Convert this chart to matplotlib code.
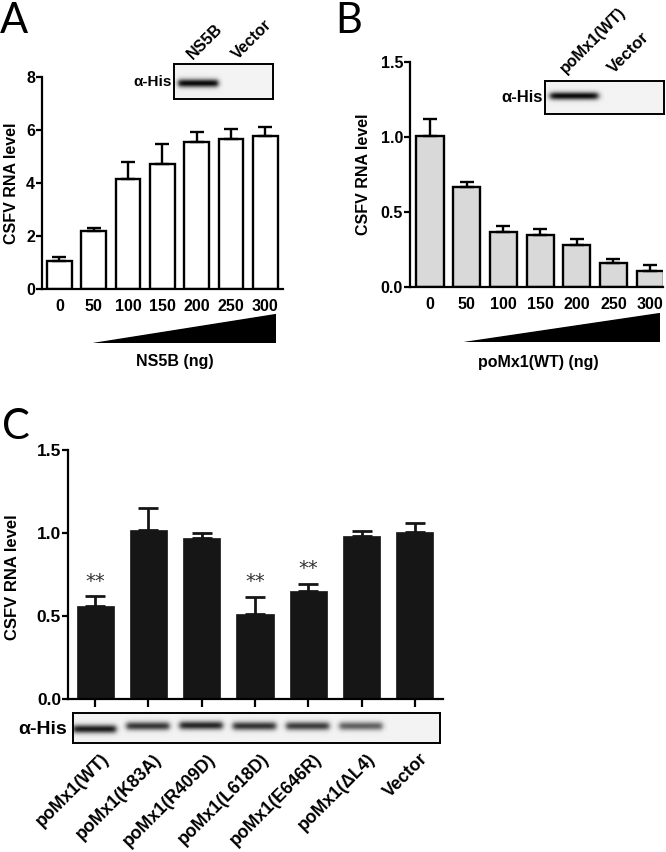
import numpy as np
import matplotlib
matplotlib.use("Agg")
import matplotlib.pyplot as plt
from matplotlib.patches import Polygon
import matplotlib.transforms as mtransforms

plt.rcParams['font.family'] = ['Liberation Sans', 'DejaVu Sans']

# ---- data ----
dose_labels = ['0', '50', '100', '150', '200', '250', '300']

ns5b_mean = [1.04, 2.18, 4.16, 4.73, 5.53, 5.66, 5.76]
ns5b_err = [0.16, 0.12, 0.62, 0.74, 0.38, 0.38, 0.35]

wt_mean = [1.01, 0.67, 0.37, 0.345, 0.28, 0.163, 0.11]
wt_err = [0.11, 0.03, 0.04, 0.045, 0.04, 0.022, 0.035]

mut_labels = ['poMx1(WT)', 'poMx1(K83A)', 'poMx1(R409D)', 'poMx1(L618D)',
              'poMx1(E646R)', 'poMx1(ΔL4)', 'Vector']
mut_mean = [0.56, 1.02, 0.97, 0.51, 0.65, 0.98, 1.005]
mut_err = [0.06, 0.13, 0.03, 0.105, 0.045, 0.03, 0.055]
mut_stars = ['**', '', '', '**', '**', '', '']

# western blot band strengths per lane
blot_a = [1.0, 0.0]
blot_b = [1.0, 0.0]
blot_c = [0.92, 0.8, 0.88, 0.82, 0.78, 0.62, 0.0]

W, H = 666, 852
fig = plt.figure(figsize=(W / 100, H / 100), dpi=100, facecolor='white')


def px_axes(l, t, r, b):
    return fig.add_axes([l / W, 1 - b / H, (r - l) / W, (b - t) / H])


def fig_text(x, y, s, **kw):
    return fig.text(x / W, 1 - y / H, s, **kw)


def style_axes(ax, xtick_len=0):
    for side in ['top', 'right']:
        ax.spines[side].set_visible(False)
    for side in ['left', 'bottom']:
        ax.spines[side].set_linewidth(1.6)
    ax.tick_params(axis='y', length=4, width=1.6, labelsize=11.5, pad=1)
    ax.tick_params(axis='x', length=xtick_len, width=1.6, labelsize=11.5, pad=7)
    for lab in ax.get_xticklabels() + ax.get_yticklabels():
        lab.set_fontweight('bold')


def blot(ax, strengths, rows=30, cols=60, centers=None, xlim=None, sigma=0.12):
    n = len(strengths)
    if centers is None:
        centers = [0.5] * n
    yy = np.linspace(0, 1, rows)[:, None]
    xx = np.linspace(0, 1, cols)[None, :]
    img = np.zeros((rows, cols * n)) + 0.05
    for i, s in enumerate(strengths):
        prof_x = 1 / (1 + np.exp(-(xx - 0.08) * 35)) * 1 / (1 + np.exp((xx - 0.9) * 35))
        prof_y = np.exp(-((yy - centers[i]) / sigma) ** 2)
        img[:, i * cols:(i + 1) * cols] += s * 0.92 * prof_y * prof_x
    ax.imshow(img, cmap='gray_r', vmin=0, vmax=1, aspect='auto',
              extent=(-0.5, n - 0.5, 1, 0), interpolation='bilinear')
    if xlim is not None:
        ax.set_xlim(xlim)
    ax.set_xticks([])
    ax.set_yticks([])
    for sp in ax.spines.values():
        sp.set_linewidth(1.4)


def ramp(l, t, r, b):
    ax = px_axes(l, t, r, b)
    ax.add_patch(Polygon([(0, 0), (1, 0), (1, 1)], closed=True, color='black'))
    ax.set_xlim(0, 1)
    ax.set_ylim(0, 1)
    ax.axis('off')


x7 = np.arange(7)
letter_kw = dict(fontsize=30, family=['Lato', 'DejaVu Sans'], fontweight='normal')

# ---- panel A ----
axA = px_axes(42, 77, 283, 289)
axA.bar(x7, ns5b_mean, width=0.72, color='white', edgecolor='black', lw=1.7, zorder=2)
axA.errorbar(x7, ns5b_mean, yerr=[np.zeros(7), ns5b_err], fmt='none', ecolor='black',
             elinewidth=1.7, capsize=4.7, capthick=1.7, zorder=3)
axA.set_xlim(-0.51, 6.52)
axA.set_ylim(0, 8)
axA.set_yticks([0, 2, 4, 6, 8])
axA.set_xticks(x7, dose_labels)
style_axes(axA)
fig_text(12, 183, 'CSFV RNA level', rotation=90, ha='center', va='center',
         fontsize=11.5, fontweight='bold')
fig_text(0, 21, 'A', ha='left', va='center', **letter_kw)
ramp(93, 314, 276, 343)
fig_text(175, 361, 'NS5B (ng)', ha='center', va='center', fontsize=11.5, fontweight='bold')

insA = px_axes(174, 64, 273, 99)
blot(insA, blot_a, centers=[0.55, 0.55])
fig_text(172, 82, 'α-His', ha='right', va='center', fontsize=11, fontweight='bold')
fig_text(195, 62, 'NS5B', rotation=45, rotation_mode='anchor', ha='left', va='bottom',
         fontsize=11.5, fontweight='bold')
fig_text(240, 62, 'Vector', rotation=45, rotation_mode='anchor', ha='left', va='bottom',
         fontsize=11.5, fontweight='bold')

# ---- panel B ----
axB = px_axes(410, 62, 663, 287)
axB.bar(x7, wt_mean, width=0.74, color='#d9d9d9', edgecolor='black', lw=1.7, zorder=2)
axB.errorbar(x7, wt_mean, yerr=[np.zeros(7), wt_err], fmt='none', ecolor='black',
             elinewidth=1.7, capsize=5, capthick=1.7, zorder=3)
axB.set_xlim(-0.545, 6.35)
axB.set_ylim(0, 1.5)
axB.set_yticks([0, 0.5, 1.0, 1.5], ['0.0', '0.5', '1.0', '1.5'])
axB.set_xticks(x7, dose_labels)
style_axes(axB)
fig_text(363, 174, 'CSFV RNA level', rotation=90, ha='center', va='center',
         fontsize=11.5, fontweight='bold')
fig_text(335, 21, 'B', ha='left', va='center', **letter_kw)
ramp(464, 313, 660, 342)
fig_text(538, 362, 'poMx1(WT) (ng)', ha='center', va='center', fontsize=11.5,
         fontweight='bold')

insB = px_axes(545, 81, 664, 114)
blot(insB, blot_b, centers=[0.45, 0.45])
fig_text(543, 98, 'α-His', ha='right', va='center', fontsize=12, fontweight='bold')
fig_text(568, 76, 'poMx1(WT)', rotation=45, rotation_mode='anchor', ha='left', va='bottom',
         fontsize=11.5, fontweight='bold')
fig_text(616, 76, 'Vector', rotation=45, rotation_mode='anchor', ha='left', va='bottom',
         fontsize=12, fontweight='bold')

# ---- panel C ----
axC = px_axes(68, 450, 443, 699)
axC.bar(x7, mut_mean, width=0.7, color='#161616', edgecolor='#161616', lw=0.5, zorder=2)
axC.errorbar(x7, mut_mean, yerr=[np.zeros(7), mut_err], fmt='none', ecolor='#161616',
             elinewidth=2, capsize=7, capthick=2, zorder=3)
for xi, m, e, s in zip(x7, mut_mean, mut_err, mut_stars):
    if s:
        axC.annotate(s, (xi, m + e), xytext=(0, 4), textcoords='offset points',
                     ha='center', va='bottom', fontsize=14, color='#333333',
                     family=['DejaVu Sans'])
axC.set_xlim(-0.51, 6.53)
axC.set_ylim(0, 1.5)
axC.set_yticks([0, 0.5, 1.0, 1.5], ['0.0', '0.5', '1.0', '1.5'])
axC.set_xticks(x7, mut_labels)
style_axes(axC, xtick_len=6)
axC.tick_params(axis='y', labelsize=12.5)
axC.tick_params(axis='x', pad=31)
shift = mtransforms.ScaledTranslation(0.05, 0, fig.dpi_scale_trans)
for lab in axC.get_xticklabels():
    lab.set_rotation(45)
    lab.set_rotation_mode('anchor')
    lab.set_ha('right')
    lab.set_va('top')
    lab.set_fontsize(12.8)
    lab.set_transform(lab.get_transform() + shift)
for lab in axC.get_yticklabels():
    lab.set_fontweight('bold')
fig_text(13, 577, 'CSFV RNA level', rotation=90, ha='center', va='center',
         fontsize=12, fontweight='bold')
fig_text(2, 427, 'C', ha='left', va='center', **letter_kw)

insC = px_axes(73, 713, 440, 743)
blot(insC, blot_c, centers=[0.55, 0.45, 0.43, 0.45, 0.45, 0.45, 0.45],
     xlim=(-0.416, 6.474), sigma=0.14)
fig_text(67, 729, 'α-His', ha='right', va='center', fontsize=14, fontweight='bold')

fig.savefig('out.png', dpi=100, facecolor='white')
